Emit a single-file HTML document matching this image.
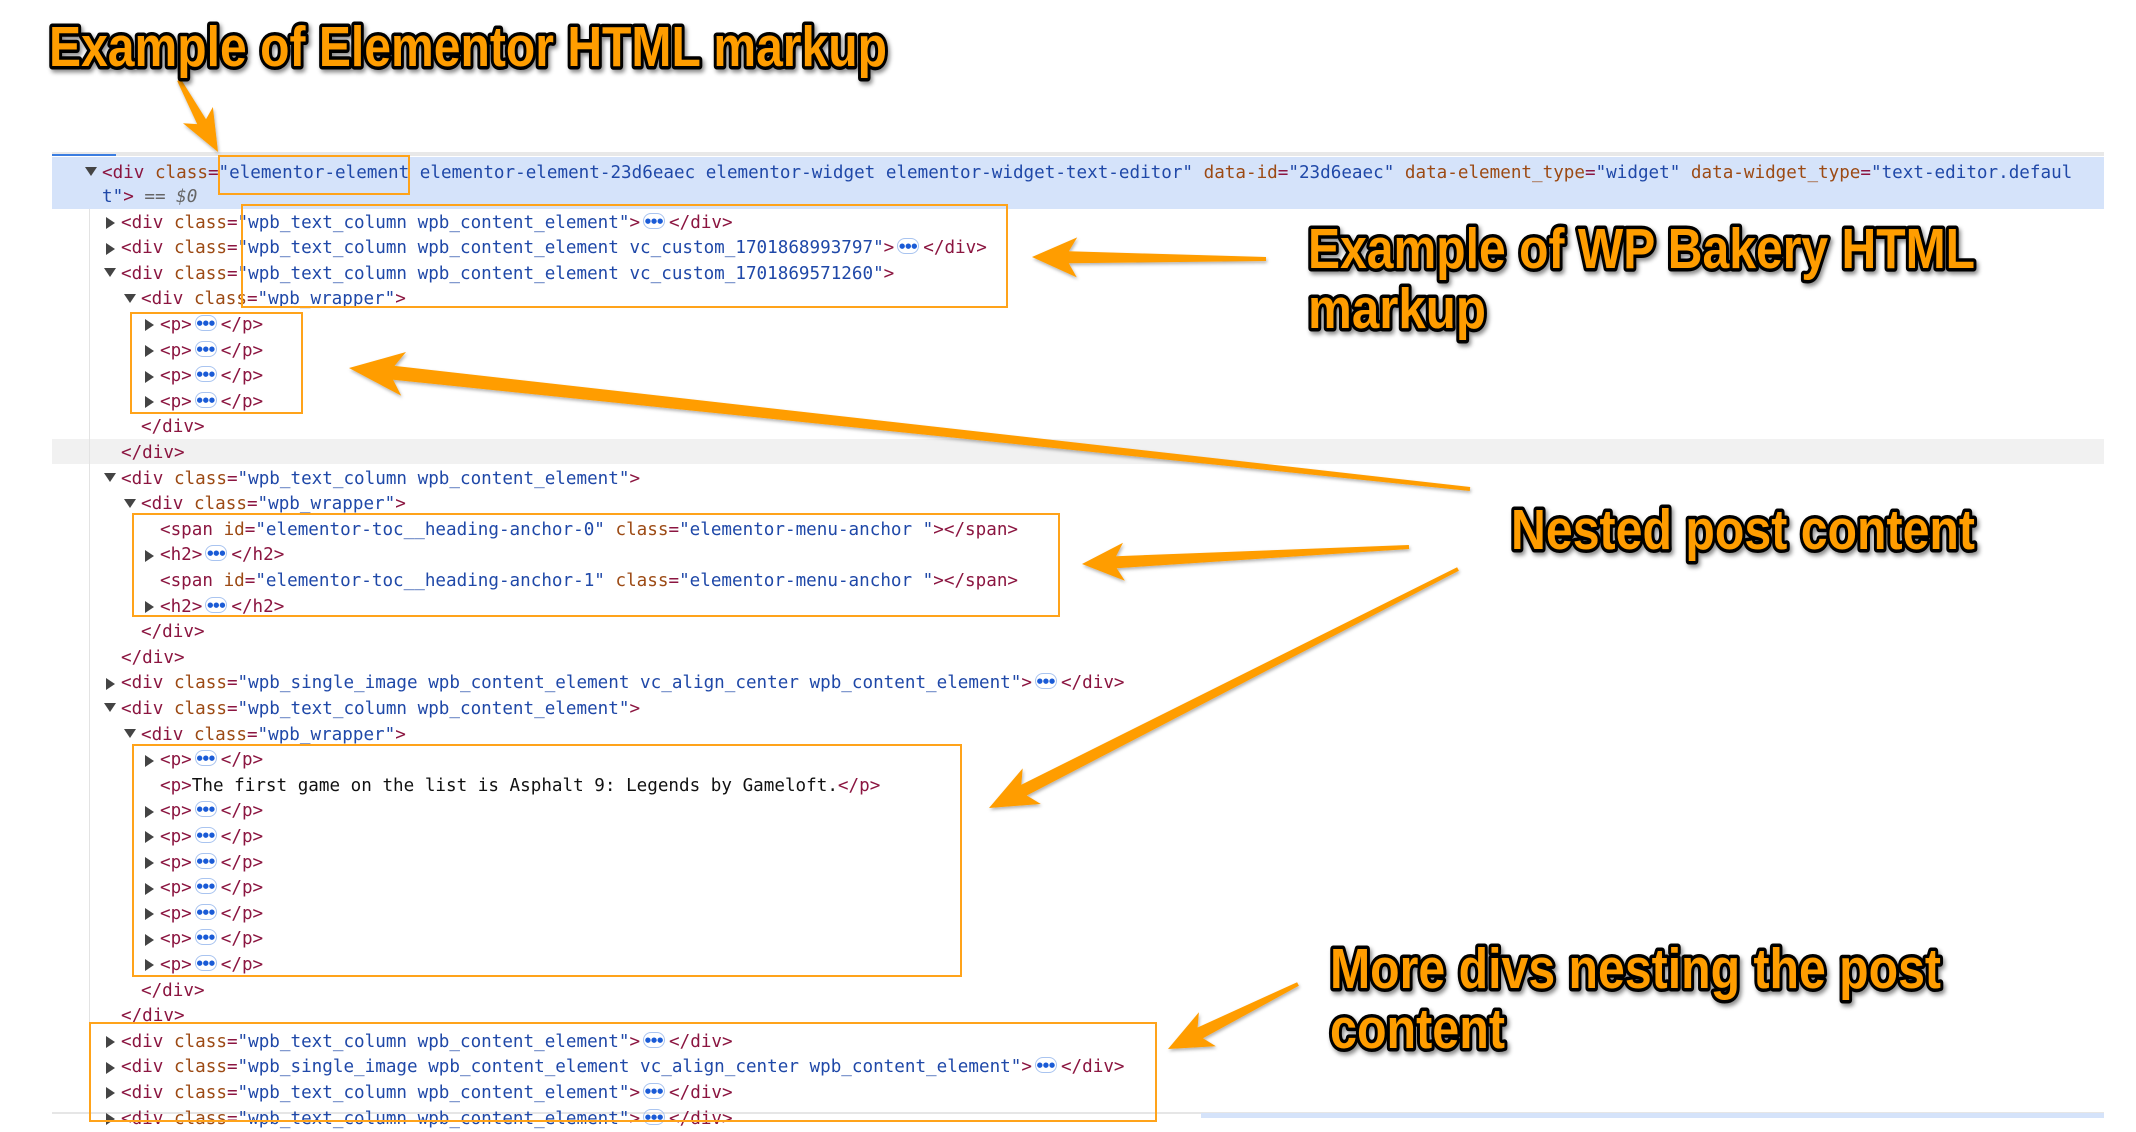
<!DOCTYPE html>
<html><head><meta charset="utf-8">
<style>
html,body{margin:0;padding:0;background:#fff;}
body{width:2136px;height:1118px;position:relative;overflow:hidden;font-family:"DejaVu Sans Mono","Liberation Mono",monospace;}
.ln{position:absolute;height:25px;line-height:25px;font-size:17.6px;white-space:pre;color:#8b1540;}
.t{color:#8b1540}.a{color:#9c4a14}.v{color:#1f48a8}.k{color:#111}
.tri{position:absolute;width:0;height:0;}
.tr{border-top:6px solid transparent;border-bottom:6px solid transparent;border-left:9px solid #444;}
.td{border-left:6px solid transparent;border-right:6px solid transparent;border-top:9px solid #444;}
.b{display:inline-block;width:20px;height:14px;border:1px solid #a9c4f0;border-radius:8px;vertical-align:middle;margin:0 4px 0 3px;position:relative;top:-2px;font-family:"DejaVu Sans",sans-serif;font-size:7px;line-height:14px;text-align:center;color:#1a5bd6;font-weight:bold;letter-spacing:0;}
.box{position:absolute;border:2px solid #ffa31a;box-sizing:border-box;}
</style></head><body>
<div style="position:absolute;left:52px;top:152px;width:2052px;height:4px;background:#e8e8e8"></div>
<div style="position:absolute;left:52px;top:154px;width:64px;height:2px;background:#3b7de0"></div>
<div style="position:absolute;left:52px;top:157px;width:2052px;height:52px;background:#d5e3fa"></div>
<div style="position:absolute;left:52px;top:439px;width:2052px;height:25px;background:#f1f1f1"></div>
<div style="position:absolute;left:89px;top:209px;width:1px;height:909px;background:#e3e3e3"></div>
<div style="position:absolute;left:52px;top:1112px;width:2052px;height:2px;background:#e6e6e6"></div>
<div style="position:absolute;left:1201px;top:1113px;width:903px;height:5px;background:#d5e3fa"></div>
<div id="code"></div>
<div class="box" style="left:218px;top:155px;width:192px;height:40px"></div>
<div class="box" style="left:241px;top:204px;width:767px;height:104px"></div>
<div class="box" style="left:130px;top:312px;width:173px;height:102px"></div>
<div class="box" style="left:132px;top:513px;width:928px;height:104px"></div>
<div class="box" style="left:132px;top:744px;width:830px;height:233px"></div>
<div class="box" style="left:89px;top:1022px;width:1068px;height:100px"></div>
<svg id="sv" width="2136" height="1118" style="position:absolute;left:0;top:0">
<defs><filter id="sh" x="-10%" y="-10%" width="120%" height="130%"><feDropShadow dx="2" dy="3" stdDeviation="2" flood-color="#000" flood-opacity="0.45"/></filter>
<filter id="sh2" x="-10%" y="-20%" width="120%" height="140%"><feDropShadow dx="1" dy="2" stdDeviation="1.5" flood-color="#000" flood-opacity="0.3"/></filter></defs>
<g id="arrows" fill="#ff9d00" filter="url(#sh2)"></g>
<g font-family="Liberation Sans, Arial, sans-serif" font-weight="bold" font-size="57" fill="#ff9d00" stroke="#000" stroke-width="7" stroke-linejoin="round" paint-order="stroke" filter="url(#sh)">
<text x="49" y="66" textLength="838" lengthAdjust="spacingAndGlyphs">Example of Elementor HTML markup</text>
<text x="1308" y="268" textLength="667" lengthAdjust="spacingAndGlyphs">Example of WP Bakery HTML</text>
<text x="1308" y="328" textLength="178" lengthAdjust="spacingAndGlyphs">markup</text>
<text x="1511" y="549" textLength="464" lengthAdjust="spacingAndGlyphs">Nested post content</text>
<text x="1330" y="988" textLength="611" lengthAdjust="spacingAndGlyphs">More divs nesting the post</text>
<text x="1330" y="1048" textLength="175" lengthAdjust="spacingAndGlyphs">content</text>
</g>
</svg>
<script>
var E='<span class="b">&#9679;&#9679;&#9679;</span>';
function tg(s){return '<span class="t">'+s+'</span>';}
function dv(cls,tail){return tg('&lt;div')+' <span class="a">class</span>'+tg('=')+'<span class="v">"'+cls+'"</span>'+tg('&gt;')+(tail||'');}
var L=[
[0,'d','&lt;div <span class="a">class</span>=<span class="v">"elementor-element elementor-element-23d6eaec elementor-widget elementor-widget-text-editor"</span> <span class="a">data-id</span>=<span class="v">"23d6eaec"</span> <span class="a">data-element_type</span>=<span class="v">"widget"</span> <span class="a">data-widget_type</span>=<span class="v">"text-editor.defaul</span>'],
[0,'','<span class="v">t"</span>&gt; <span style="color:#666">== <i>$0</i></span>'],
[1,'r',dv('wpb_text_column wpb_content_element',E+'&lt;/div&gt;')],
[1,'r',dv('wpb_text_column wpb_content_element vc_custom_1701868993797',E+'&lt;/div&gt;')],
[1,'d',dv('wpb_text_column wpb_content_element vc_custom_1701869571260')],
[2,'d',dv('wpb_wrapper')],
[3,'r','&lt;p&gt;'+E+'&lt;/p&gt;'],[3,'r','&lt;p&gt;'+E+'&lt;/p&gt;'],[3,'r','&lt;p&gt;'+E+'&lt;/p&gt;'],[3,'r','&lt;p&gt;'+E+'&lt;/p&gt;'],
[2,'','&lt;/div&gt;'],[1,'','&lt;/div&gt;'],
[1,'d',dv('wpb_text_column wpb_content_element')],
[2,'d',dv('wpb_wrapper')],
[3,'','&lt;span <span class="a">id</span>=<span class="v">"elementor-toc__heading-anchor-0"</span> <span class="a">class</span>=<span class="v">"elementor-menu-anchor "</span>&gt;&lt;/span&gt;'],
[3,'r','&lt;h2&gt;'+E+'&lt;/h2&gt;'],
[3,'','&lt;span <span class="a">id</span>=<span class="v">"elementor-toc__heading-anchor-1"</span> <span class="a">class</span>=<span class="v">"elementor-menu-anchor "</span>&gt;&lt;/span&gt;'],
[3,'r','&lt;h2&gt;'+E+'&lt;/h2&gt;'],
[2,'','&lt;/div&gt;'],[1,'','&lt;/div&gt;'],
[1,'r',dv('wpb_single_image wpb_content_element vc_align_center wpb_content_element',E+'&lt;/div&gt;')],
[1,'d',dv('wpb_text_column wpb_content_element')],
[2,'d',dv('wpb_wrapper')],
[3,'r','&lt;p&gt;'+E+'&lt;/p&gt;'],
[3,'','&lt;p&gt;<span class="k">The first game on the list is Asphalt 9: Legends by Gameloft.</span>&lt;/p&gt;'],
[3,'r','&lt;p&gt;'+E+'&lt;/p&gt;'],[3,'r','&lt;p&gt;'+E+'&lt;/p&gt;'],[3,'r','&lt;p&gt;'+E+'&lt;/p&gt;'],[3,'r','&lt;p&gt;'+E+'&lt;/p&gt;'],[3,'r','&lt;p&gt;'+E+'&lt;/p&gt;'],[3,'r','&lt;p&gt;'+E+'&lt;/p&gt;'],[3,'r','&lt;p&gt;'+E+'&lt;/p&gt;'],
[2,'','&lt;/div&gt;'],[1,'','&lt;/div&gt;'],
[1,'r',dv('wpb_text_column wpb_content_element',E+'&lt;/div&gt;')],
[1,'r',dv('wpb_single_image wpb_content_element vc_align_center wpb_content_element',E+'&lt;/div&gt;')],
[1,'r',dv('wpb_text_column wpb_content_element',E+'&lt;/div&gt;')],
[1,'r',dv('wpb_text_column wpb_content_element',E+'&lt;/div&gt;')]
];
var X=[102,121,141,160],h='';
for(var i=0;i<L.length;i++){
 var cy=i==0?173:(i==1?197:223+(i-2)*25.6);
 var l=L[i],x=X[l[0]];
 if(i==1)x=102;
 if(l[1]=='r')h+='<div class="tri tr" style="left:'+(x-15)+'px;top:'+(cy-6)+'px"></div>';
 if(l[1]=='d')h+='<div class="tri td" style="left:'+(x-17)+'px;top:'+(cy-6)+'px"></div>';
 h+='<div class="ln" style="left:'+x+'px;top:'+(cy-12.5)+'px">'+l[2]+'</div>';
}
document.getElementById('code').innerHTML=h;
function arrow(tx,ty,px,py,hl,hw,t0,t1){
 var dx=px-tx,dy=py-ty,len=Math.sqrt(dx*dx+dy*dy),ux=dx/len,uy=dy/len,nx=-uy,ny=ux;
 var bx=px-ux*hl,by=py-uy*hl,cx=px-ux*hl*0.82,cy=py-uy*hl*0.82;
 var p=[[tx+nx*t0,ty+ny*t0],[cx+nx*t1,cy+ny*t1],[bx+nx*hw,by+ny*hw],[px,py],[bx-nx*hw,by-ny*hw],[cx-nx*t1,cy-ny*t1],[tx-nx*t0,ty-ny*t0]];
 return '<polygon points="'+p.map(function(q){return q[0].toFixed(1)+','+q[1].toFixed(1)}).join(' ')+'"/>';
}
document.getElementById('arrows').innerHTML=
 arrow(179,80,218,152,42,17,2,5)+
 arrow(1266,259,1032,257,45,20,2,6)+
 arrow(1470,489,349,368,55,22,2,7)+
 arrow(1409,547,1082,564,42,19,2,6)+
 arrow(1458,569,989,808,48,20,2,6)+
 arrow(1298,984,1168,1049,44,19,2,6);
</script>
</body></html>
